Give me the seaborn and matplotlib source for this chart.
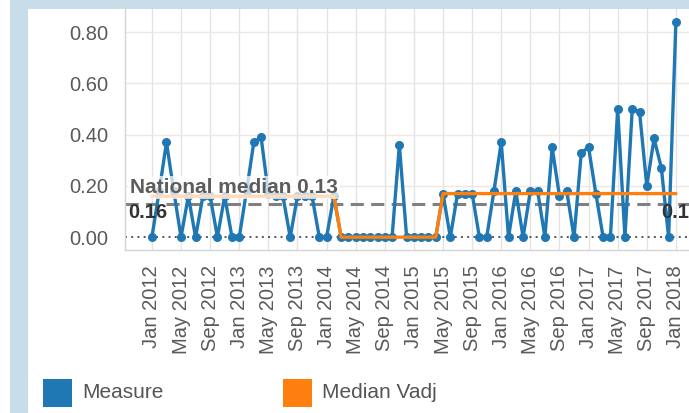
import numpy as np
import pandas as pd
import matplotlib
matplotlib.use("Agg")
import matplotlib.pyplot as plt
import seaborn as sns
from matplotlib.patches import Rectangle

# ---- data ----
month_index = list(range(73))  # Jan 2012 .. Jan 2018
measure = [
    0.00, 0.18, 0.37, 0.18, 0.00, 0.16, 0.00, 0.16, 0.16, 0.00, 0.16, 0.00,   # 2012
    0.00, 0.18, 0.37, 0.39, 0.17, 0.16, 0.16, 0.00, 0.16, 0.16, 0.16, 0.00,   # 2013
    0.00, 0.16, 0.00, 0.00, 0.00, 0.00, 0.00, 0.00, 0.00, 0.00, 0.36, 0.00,   # 2014
    0.00, 0.00, 0.00, 0.00, 0.17, 0.00, 0.17, 0.17, 0.17, 0.00, 0.00, 0.18,   # 2015
    0.37, 0.00, 0.18, 0.00, 0.18, 0.18, 0.00, 0.35, 0.16, 0.18, 0.00, 0.33,   # 2016
    0.35, 0.17, 0.00, 0.00, 0.50, 0.00, 0.50, 0.49, 0.20, 0.385, 0.27, 0.00,  # 2017
    0.84,                                                                     # 2018
]
median_vadj = [
    0.16, 0.16, 0.16, 0.16, 0.16, 0.16, 0.16, 0.16, 0.16, 0.16, 0.16, 0.16,
    0.16, 0.16, 0.16, 0.16, 0.16, 0.16, 0.16, 0.16, 0.16, 0.16, 0.16, 0.16,
    0.16, 0.16, 0.00, 0.00, 0.00, 0.00, 0.00, 0.00, 0.00, 0.00, 0.00, 0.00,
    0.00, 0.00, 0.00, 0.00, 0.17, 0.17, 0.17, 0.17, 0.17, 0.17, 0.17, 0.17,
    0.17, 0.17, 0.17, 0.17, 0.17, 0.17, 0.17, 0.17, 0.17, 0.17, 0.17, 0.17,
    0.17, 0.17, 0.17, 0.17, 0.17, 0.17, 0.17, 0.17, 0.17, 0.17, 0.17, 0.17,
    0.17,
]
national_median = 0.13
tick_positions = [0, 4, 8, 12, 16, 20, 24, 28, 32, 36, 40, 44, 48, 52, 56, 60, 64, 68, 72]
tick_labels = ["Jan 2012", "May 2012", "Sep 2012", "Jan 2013", "May 2013", "Sep 2013",
               "Jan 2014", "May 2014", "Sep 2014", "Jan 2015", "May 2015", "Sep 2015",
               "Jan 2016", "May 2016", "Sep 2016", "Jan 2017", "May 2017", "Sep 2017",
               "Jan 2018"]
y_ticks = [0.0, 0.2, 0.4, 0.6, 0.8]
y_tick_labels = ["0.00", "0.20", "0.40", "0.60", "0.80"]
series_names = ["Measure", "Median Vadj"]

BLUE = "#1f77b4"
ORANGE = "#ff7f0e"

sns.set_style("white")
plt.rcParams["font.family"] = ["Liberation Sans", "DejaVu Sans"]

W, H = 689, 413
fig = plt.figure(figsize=(W / 100, H / 100), dpi=100)

# decorative frame elements of the dashboard
fig.add_artist(Rectangle((10 / W, 0), 18 / W, 1, transform=fig.transFigure,
                         facecolor="#c9dcea", edgecolor="none", zorder=0))
fig.add_artist(Rectangle((28 / W, 1 - 9 / H), 1, 9 / H, transform=fig.transFigure,
                         facecolor="#c9dcea", edgecolor="none", zorder=0))

ax_left, ax_right = 125, 689
ax_top, ax_bottom = 9, 250
ax = fig.add_axes([ax_left / W, 1 - ax_bottom / H, (ax_right - ax_left) / W,
                   (ax_bottom - ax_top) / H])

df = pd.DataFrame({"month": month_index, "Measure": measure, "Median Vadj": median_vadj})

# gridlines
for t in tick_positions:
    ax.axvline(t, color="#e3e3e3", lw=1.0, zorder=0)
for yt in y_ticks[1:]:
    ax.axhline(yt, color="#f1e7df", lw=1.0, zorder=0)

ax.axhline(0, color="#555555", lw=1.4, ls=(0, (1, 2.2)), zorder=1)
ax.axhline(national_median, color="#808080", lw=2.2, dashes=(4.3, 2.4), zorder=2.5)

sns.lineplot(data=df, x="month", y="Measure", color=BLUE, lw=2.4, marker="o",
             markersize=6.5, markeredgewidth=0, ax=ax, zorder=3)
sns.lineplot(data=df, x="month", y="Median Vadj", color=ORANGE, lw=2.4, ax=ax, zorder=4)

ax.set_xlim(-3.7, 73.8)
ax.set_ylim(-0.05, 0.89)
ax.set_xlabel("")
ax.set_ylabel("")
ax.set_xticks(tick_positions)
ax.set_xticklabels(tick_labels, rotation=90, fontsize=14.5, color="#5a5a5a")
ax.set_yticks(y_ticks)
ax.set_yticklabels(y_tick_labels, fontsize=14.5, color="#5a5a5a")
ax.tick_params(axis="x", length=7, color="#d8d8d8", pad=4)
ax.tick_params(axis="y", length=8, color="#d8d8d8", pad=4)
for s in ["top", "right"]:
    ax.spines[s].set_visible(False)
for s in ["left", "bottom"]:
    ax.spines[s].set_color("#d4d4d4")
    ax.spines[s].set_linewidth(1.0)

# annotations
ax.text(-3.0, 0.172, "National median 0.13", fontsize=15, fontweight="bold",
        color="#5c5c5c", ha="left", va="baseline", zorder=6,
        bbox=dict(facecolor="white", alpha=0.72, edgecolor="none", pad=1.2))
ax.text(-3.3, 0.074, "0.16", fontsize=14.5, fontweight="bold",
        color="#333333", ha="left", va="baseline", zorder=6)
ax.text(70.0, 0.074, "0.17", fontsize=14.5, fontweight="bold",
        color="#333333", ha="left", va="baseline", zorder=6, clip_on=False)

# legend
leg_y = 1 - 407 / H
fig.add_artist(Rectangle((43 / W, leg_y), 29 / W, 28 / H, transform=fig.transFigure,
                         facecolor=BLUE, edgecolor="none"))
fig.text(82 / W, 1 - 393 / H, series_names[0], fontsize=15, color="#555555",
         ha="left", va="center")
fig.add_artist(Rectangle((283 / W, leg_y), 29 / W, 28 / H, transform=fig.transFigure,
                         facecolor=ORANGE, edgecolor="none"))
fig.text(322 / W, 1 - 393 / H, series_names[1], fontsize=15, color="#555555",
         ha="left", va="center")

fig.savefig("out.png", dpi=100)
